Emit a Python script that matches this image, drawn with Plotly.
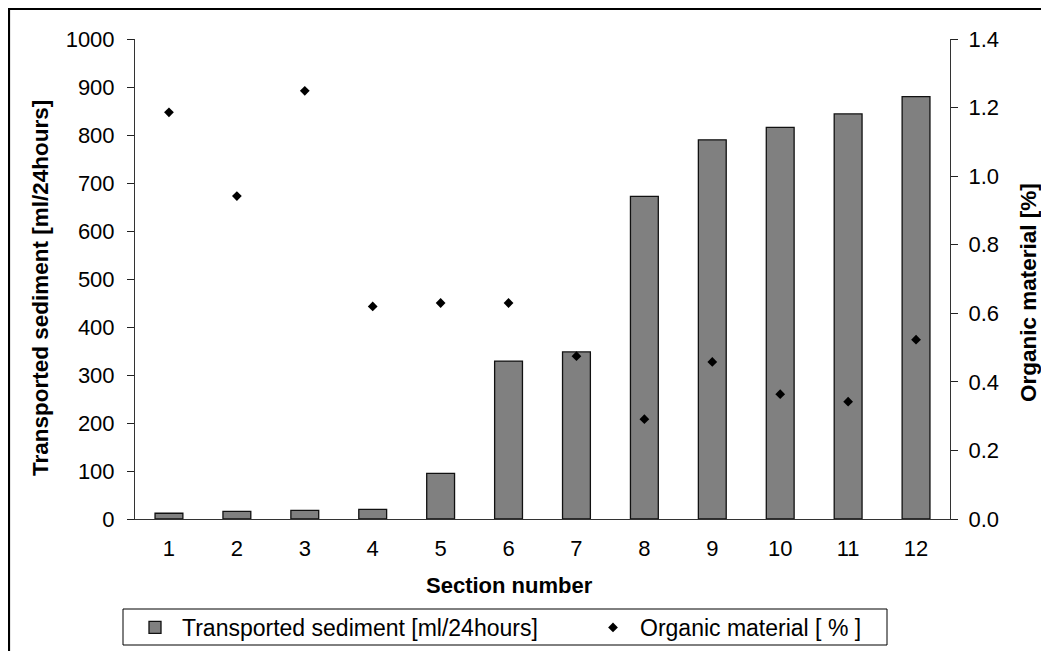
import plotly.graph_objects as go

sections = [1, 2, 3, 4, 5, 6, 7, 8, 9, 10, 11, 12]
section_labels = [str(s) for s in sections]
sediment = [12, 16, 18, 20, 95, 329, 348, 672, 790, 816, 844, 880]
organic = [1.186, 0.942, 1.249, 0.62, 0.63, 0.63, 0.475, 0.291, 0.458, 0.364, 0.342, 0.523]
boundaries = [s - 0.5 for s in sections] + [12.5]
left_ticks = list(range(0, 1001, 100))
right_ticks = [0.0, 0.2, 0.4, 0.6, 0.8, 1.0, 1.2, 1.4]

FONT = "Liberation Sans, Arial, sans-serif"
W, H = 1049, 651
OFF = 8  # page body margin
L, T = 135 - OFF, 39 - OFF
RIGHT_EDGE, BOTTOM_EDGE = 950 - OFF, 519 - OFF
R, B = W - RIGHT_EDGE, H - BOTTOM_EDGE
PW, PH = W - L - R, H - T - B


def px(x):
    """screen x of reference -> paper coordinate"""
    return (x - OFF - L) / PW


def py(y):
    return (H - B - (y - OFF)) / PH


fig = go.Figure()
fig.add_trace(go.Bar(
    x=sections, y=sediment, name="Transported sediment [ml/24hours]",
    marker=dict(color="#808080", line=dict(color="#111111", width=1.3)),
    width=0.41, yaxis="y", xaxis="x",
))
fig.add_trace(go.Scatter(
    x=sections, y=organic, name="Organic material [ % ]", mode="markers",
    marker=dict(symbol="diamond", color="black", size=7.5),
    yaxis="y2", xaxis="x",
))

axis_font = dict(family=FONT, size=22, color="black")
title_font = dict(family=FONT, size=22, color="black")
ytitle_font = dict(family=FONT, size=22.5, color="black")

ITEMW = 44
fig.update_layout(
    width=W, height=H,
    margin=dict(l=L, r=R, t=T, b=B, autoexpand=False),
    paper_bgcolor="white", plot_bgcolor="white",
    font=dict(family=FONT, size=22, color="black"),
    showlegend=True,
    xaxis=dict(range=[0.5, 12.5], tickvals=sections, ticktext=section_labels,
               ticks="", showgrid=False, zeroline=False, showline=True,
               linecolor="#333333", linewidth=1, tickfont=axis_font,
               ticklabelstandoff=10, fixedrange=True),
    xaxis2=dict(overlaying="x", anchor="y", range=[0.5, 12.5], tickvals=boundaries,
                ticks="outside", ticklen=7, tickcolor="#222222", showticklabels=False,
                showgrid=False, zeroline=False, showline=False),
    xaxis3=dict(overlaying="x", anchor="y", range=[0.5, 12.5], tickvals=boundaries,
                ticks="inside", ticklen=8, tickcolor="#222222", showticklabels=False,
                showgrid=False, zeroline=False, showline=False),
    yaxis=dict(range=[0, 1000], tickvals=left_ticks, ticks="outside", ticklen=7,
               tickcolor="#222222", showgrid=False, zeroline=False, showline=True,
               linecolor="#333333", linewidth=1, tickfont=axis_font,
               ticklabelstandoff=8),
    yaxis2=dict(range=[0, 1.4], tickvals=right_ticks, tickformat=".1f", overlaying="y",
                side="right", anchor="x", ticks="outside", ticklen=7, tickcolor="#222222",
                showgrid=False, zeroline=False, showline=True, linecolor="#333333",
                linewidth=1, tickfont=axis_font, ticklabelstandoff=6),
    yaxis3=dict(range=[0, 1000], tickvals=left_ticks, overlaying="y", side="left",
                anchor="x", ticks="inside", ticklen=7, tickcolor="#222222",
                showticklabels=False, showgrid=False, zeroline=False, showline=False),
    yaxis4=dict(range=[0, 1.4], tickvals=right_ticks, overlaying="y", side="right",
                anchor="x", ticks="inside", ticklen=7, tickcolor="#222222",
                showticklabels=False, showgrid=False, zeroline=False, showline=False),
    legend=dict(orientation="h", xref="paper", yref="paper",
                x=px(182 - (ITEMW + 10)), xanchor="left",
                y=py(606), yanchor="top",
                bgcolor="rgba(0,0,0,0)", borderwidth=0,
                font=dict(family=FONT, size=23, color="black"),
                entrywidth=399, entrywidthmode="pixels", itemwidth=ITEMW),
    bargap=0.59,
    annotations=[
        dict(text="<b>Transported sediment [ml/24hours]</b>", xref="paper", yref="paper",
             x=px(40), y=py(288), textangle=-90, showarrow=False, font=ytitle_font,
             xanchor="center", yanchor="middle"),
        dict(text="<b>Organic material [%]</b>", xref="paper", yref="paper",
             x=px(1028), y=py(292), textangle=-90, showarrow=False, font=ytitle_font,
             xanchor="center", yanchor="middle"),
        dict(text="<b>Section number</b>", xref="paper", yref="paper",
             x=px(509), y=py(585), showarrow=False, font=title_font,
             xanchor="center", yanchor="middle"),
    ],
    shapes=[
        # chart frame
        dict(type="rect", xref="paper", yref="paper", x0=px(OFF + 1), y0=py(720),
             x1=px(1120), y1=py(OFF + 1), line=dict(color="black", width=2.2),
             fillcolor="rgba(0,0,0,0)", layer="below"),
        # legend frame
        dict(type="rect", xref="paper", yref="paper", x0=px(123), y0=py(645),
             x1=px(887), y1=py(609), line=dict(color="black", width=1),
             fillcolor="white", layer="below"),
    ],
)

fig.write_html("out.html")
